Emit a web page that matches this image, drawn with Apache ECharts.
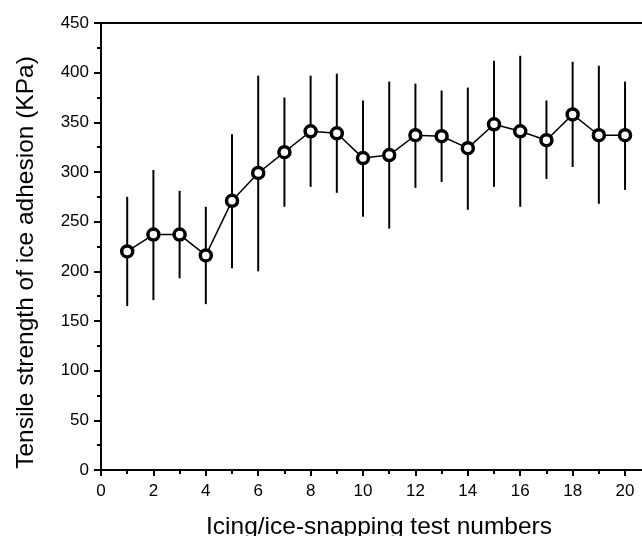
<!DOCTYPE html>
<html>
<head>
<meta charset="utf-8">
<script src="https://cdn.jsdelivr.net/npm/echarts@6/dist/echarts.min.js"></script>
<style>
  html, body { margin: 0; padding: 0; background: #fff; }
  #chart { width: 642px; height: 536px; }
</style>
</head>
<body>
<div id="chart"></div>
<script>
// test numbers and tensile strength (KPa)
var testNo = [1, 2, 3, 4, 5, 6, 7, 8, 9, 10, 11, 12, 13, 14, 15, 16, 17, 18, 19, 20];
var meanVal = [220, 237, 237, 216, 271, 299, 320, 341, 339, 314, 317, 337, 336, 324, 348, 341, 332, 358, 337, 337];
var upperVal = [275, 302, 281, 265, 338, 397, 375, 397, 399, 372, 391, 389, 382, 385, 412, 417, 372, 411, 407, 391];
var lowerVal = [165, 171, 193, 167, 203, 200, 265, 285, 279, 255, 243, 284, 290, 262, 285, 265, 293, 305, 268, 282];

var font = "Liberation Sans, Arial, sans-serif";

var myChart = echarts.init(document.getElementById("chart"));

var lineData = testNo.map(function (x, i) { return [x, meanVal[i]]; });
var barData = testNo.map(function (x, i) { return [x, upperVal[i], lowerVal[i]]; });

var option = {
  backgroundColor: "#fff",
  animation: false,
  grid: {
    left: 101,
    top: 23,
    bottom: 66,
    right: -4,
    show: true,
    borderColor: "#000",
    borderWidth: 2,
    outerBoundsMode: "none"
  },
  xAxis: {
    type: "value",
    min: 0,
    max: 20.8,
    interval: 2,
    name: "Icing/ice-snapping test numbers",
    nameLocation: "middle",
    nameGap: 45,
    nameTextStyle: { fontFamily: font, fontSize: 24.5, color: "#000", padding: [0, 0, 0, 11] },
    axisLine: { lineStyle: { color: "#000", width: 2 } },
    axisTick: { inside: false, length: 6, lineStyle: { color: "#000", width: 2 } },
    minorTick: { show: true, splitNumber: 2, length: 4, lineStyle: { color: "#000", width: 2 } },
    splitLine: { show: false },
    axisLabel: {
      fontFamily: font, fontSize: 17, color: "#000", margin: 13,
      showMaxLabel: false,
      formatter: function (v) { return (v % 2 === 0) ? String(v) : ""; }
    }
  },
  yAxis: {
    type: "value",
    min: 0,
    max: 450,
    interval: 50,
    name: "Tensile strength of ice adhesion (KPa)",
    nameLocation: "middle",
    nameGap: 62,
    nameTextStyle: { fontFamily: font, fontSize: 24.5, color: "#000", padding: [0, 32, 0, 0] },
    axisLine: { show: true, lineStyle: { color: "#000", width: 2 } },
    axisTick: { show: true, inside: false, length: 7, lineStyle: { color: "#000", width: 2 } },
    minorTick: { show: true, splitNumber: 2, length: 4, lineStyle: { color: "#000", width: 2 } },
    splitLine: { show: false },
    axisLabel: { fontFamily: font, fontSize: 17, color: "#000", margin: 12 }
  },
  series: [
    {
      // 误差棒
      type: "custom",
      z: 2,
      data: barData,
      renderItem: function (params, api) {
        var x = api.value(0);
        var hi = api.coord([x, api.value(1)]);
        var lo = api.coord([x, api.value(2)]);
        return {
          type: "line",
          shape: { x1: hi[0], y1: hi[1], x2: lo[0], y2: lo[1] },
          style: { stroke: "#000", lineWidth: 2 }
        };
      }
    },
    {
      type: "line",
      z: 3,
      data: lineData,
      symbol: "circle",
      symbolSize: 11,
      lineStyle: { color: "#000", width: 1.5 },
      itemStyle: { color: "#fff", borderColor: "#000", borderWidth: 3.5 }
    }
  ]
};
myChart.setOption(option);
</script>
</body>
</html>
